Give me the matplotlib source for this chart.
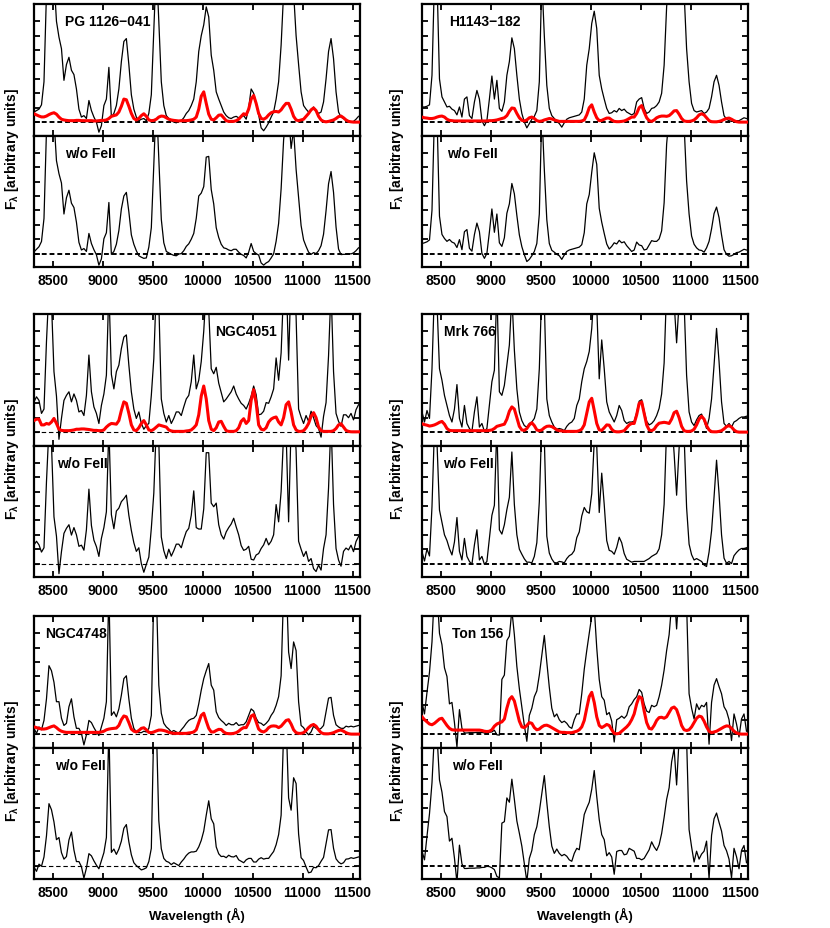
import numpy as np
import matplotlib.pyplot as plt

plt.rcParams["font.family"] = ["Liberation Sans", "DejaVu Sans"]
plt.rcParams["font.weight"] = "bold"
plt.rcParams["mathtext.default"] = "regular"

wavelength = np.arange(8310, 11575, 25)

# observed flux (incl. FeII), continuum level = 1, one row = 250 A
pg1126_flux = [1.7, 1.8, 1.9, 2.2, 3.8, 10, 12, 12, 11, 8.0,
               6.9, 6.1, 3.9, 5.0, 5.5, 4.6, 4.3, 3.3, 1.9, 1.35,
               1.45, 1.25, 2.5, 1.8, 1.35, 1.0, 0.3, 0.75, 2.15, 2.6,
               4.8, 1.35, 1.6, 2.15, 3.3, 5.2, 6.6, 6.8, 5.0, 2.9,
               1.9, 1.35, 1.1, 1.2, 1.25, 1.1, 1.6, 2.9, 7.3, 12,
               8.0, 3.8, 2.15, 1.45, 1.25, 1.1, 1.0, 0.95, 1.05, 1.1,
               1.3, 1.6, 1.8, 2.15, 2.6, 3.8, 5.9, 7.0, 7.75, 9.0,
               8.3, 5.65, 4.6, 3.1, 2.6, 2.15, 1.7, 1.45, 1.3, 1.25,
               1.35, 1.4, 1.3, 1.35, 1.45, 1.2, 2.0, 3.3, 3.0, 2.3,
               1.5, 0.6, 0.4, 0.65, 0.95, 1.35, 1.7, 2.6, 3.8, 6.35,
               10, 12, 12, 9.2, 10, 7.0, 5.0, 3.1, 2.15, 1.9,
               1.7, 1.8, 2.05, 1.8, 1.6, 1.7, 2.4, 4.0, 5.9, 6.8,
               5.4, 3.1, 1.7, 1.35, 1.25, 1.1, 1.05, 1.0, 1.05, 1.2,
               1.4]
pg1126_feii = [1.58, 1.5, 1.42, 1.36, 1.36, 1.42, 1.52, 1.6, 1.65, 1.55,
               1.35, 1.2, 1.15, 1.12, 1.1, 1.1, 1.1, 1.12, 1.12, 1.1,
               1.1, 1.1, 1.1, 1.1, 1.08, 1.08, 1.1, 1.12, 1.12, 1.15,
               1.25, 1.4, 1.45, 1.5, 1.7, 2.1, 2.6, 2.55, 2.1, 1.6,
               1.25, 1.15, 1.25, 1.45, 1.58, 1.4, 1.15, 1.1, 1.12, 1.2,
               1.35, 1.42, 1.4, 1.3, 1.2, 1.15, 1.12, 1.1, 1.08, 1.1,
               1.1, 1.1, 1.12, 1.15, 1.2, 1.35, 1.9, 2.8, 3.1, 2.3,
               1.55, 1.2, 1.15, 1.3, 1.48, 1.5, 1.3, 1.1, 1.05, 1.05,
               1.05, 1.1, 1.2, 1.4, 1.58, 1.5, 1.9, 2.6, 2.85, 2.3,
               1.6, 1.25, 1.2, 1.3, 1.5, 1.65, 1.72, 1.74, 1.7, 1.85,
               2.1, 2.3, 2.3, 1.9, 1.4, 1.15, 1.1, 1.15, 1.2, 1.4,
               1.6, 1.85, 1.98, 1.8, 1.4, 1.15, 1.05, 1.02, 1.05, 1.1,
               1.15, 1.25, 1.38, 1.42, 1.3, 1.15, 1.05, 1.02, 1.0, 1.0,
               1.0]

h1143_flux = [2.05, 2.05, 2.1, 2.2, 4.25, 11, 11, 4.0, 2.75, 2.4,
              2.05, 2.1, 1.9, 1.8, 1.5, 2.05, 1.35, 2.6, 2.75, 1.45,
              1.25, 2.4, 3.2, 2.6, 1.1, 0.75, 1.1, 2.6, 4.2, 2.6,
              3.9, 1.95, 1.75, 2.4, 4.25, 5.2, 6.85, 6.1, 4.25, 2.6,
              1.6, 1.0, 0.6, 0.9, 1.2, 1.4, 1.8, 3.8, 11, 7.0,
              3.55, 1.95, 1.45, 1.25, 1.05, 0.9, 0.65, 0.95, 1.2, 1.3,
              1.35, 1.4, 1.45, 1.5, 1.7, 2.6, 4.95, 6.1, 7.85, 8.7,
              7.5, 4.25, 3.3, 2.6, 1.95, 1.6, 1.65, 1.8, 1.7, 1.95,
              1.8, 1.9, 1.7, 1.6, 1.5, 1.6, 2.4, 2.6, 2.7, 1.95,
              1.6, 1.7, 1.95, 2.0, 2.15, 2.4, 3.0, 4.95, 9.0, 11,
              12, 12, 12, 12, 12, 10, 6.1, 3.8, 2.3, 1.8,
              1.7, 1.75, 1.8, 1.6, 1.7, 1.95, 2.75, 3.8, 4.25, 3.55,
              2.4, 1.45, 1.2, 1.1, 1.05, 1.05, 1.1, 1.1, 1.2, 1.3,
              1.25]
h1143_feii = [1.35, 1.3, 1.28, 1.25, 1.25, 1.28, 1.35, 1.4, 1.42, 1.35,
              1.2, 1.12, 1.1, 1.08, 1.08, 1.08, 1.08, 1.08, 1.08, 1.08,
              1.08, 1.08, 1.08, 1.08, 1.08, 1.08, 1.08, 1.1, 1.1, 1.12,
              1.15, 1.2, 1.25, 1.3, 1.45, 1.75, 1.98, 1.95, 1.6, 1.3,
              1.12, 1.08, 1.15, 1.3, 1.35, 1.25, 1.1, 1.05, 1.08, 1.15,
              1.2, 1.25, 1.22, 1.15, 1.1, 1.05, 1.05, 1.05, 1.05, 1.05,
              1.05, 1.05, 1.05, 1.05, 1.08, 1.15, 1.5, 2.0, 2.2, 1.7,
              1.3, 1.1, 1.12, 1.2, 1.28, 1.28, 1.15, 1.05, 1.03, 1.03,
              1.05, 1.08, 1.15, 1.25, 1.35, 1.35, 1.6, 2.0, 2.15, 1.7,
              1.3, 1.1, 1.05, 1.15, 1.3, 1.38, 1.42, 1.42, 1.4, 1.45,
              1.6, 1.78, 1.8, 1.55, 1.25, 1.08, 1.05, 1.05, 1.08, 1.15,
              1.3, 1.5, 1.58, 1.5, 1.3, 1.1, 1.03, 1.02, 1.02, 1.05,
              1.1, 1.18, 1.25, 1.28, 1.2, 1.1, 1.03, 1.0, 1.0, 1.0,
              1.0]

n4051_flux = [3.1, 3.45, 3.2, 2.3, 2.6, 7.3, 11, 10, 5.2, 3.5,
              0.5, 1.95, 3.2, 3.55, 3.8, 3.1, 3.65, 3.2, 2.4, 2.5,
              2.15, 3.55, 6.35, 3.8, 2.75, 2.3, 1.6, 2.85, 3.65, 4.95,
              11, 5.0, 4.0, 5.2, 5.65, 6.8, 7.6, 7.75, 5.65, 3.8,
              2.6, 1.95, 2.4, 1.6, 1.2, 1.45, 1.6, 3.55, 6.1, 11,
              10, 3.3, 2.3, 1.7, 2.15, 1.6, 1.95, 2.4, 2.4, 2.15,
              2.75, 3.3, 3.55, 4.5, 6.35, 4.0, 4.6, 5.9, 8.0, 11,
              9.5, 5.4, 5.05, 5.5, 4.4, 3.75, 3.1, 3.3, 3.55, 3.8,
              4.2, 3.65, 3.3, 3.0, 2.85, 2.6, 3.0, 3.5, 4.2, 3.6,
              2.2, 2.25, 2.45, 3.05, 3.0, 3.45, 4.0, 6.15, 4.6, 6.5,
              11, 12, 6.0, 12, 12, 9.0, 2.6, 2.05, 1.6, 2.15,
              1.75, 2.45, 2.0, 1.45, 1.25, 0.65, 2.1, 3.05, 6.3, 11,
              5.2, 2.3, 1.75, 1.4, 2.2, 2.2, 2.0, 2.3, 1.85, 2.55,
              2.9]
n4051_feii = [1.8, 1.9, 1.9, 1.5, 1.5, 1.6, 1.55, 1.7, 1.95, 1.6,
              1.2, 1.12, 1.1, 1.1, 1.1, 1.12, 1.15, 1.2, 1.2, 1.22,
              1.22, 1.2, 1.18, 1.15, 1.12, 1.12, 1.1, 1.1, 1.15, 1.35,
              1.5, 1.6, 1.58, 1.55, 1.8, 2.5, 3.1, 3.0, 2.3, 1.5,
              1.15, 1.1, 1.3, 1.6, 1.8, 1.5, 1.15, 1.1, 1.2, 1.35,
              1.5, 1.45, 1.4, 1.35, 1.15, 1.08, 1.05, 1.05, 1.05, 1.05,
              1.05, 1.08, 1.1, 1.15, 1.3, 1.5, 2.2, 3.5, 4.2, 3.3,
              1.8, 1.2, 1.1, 1.3, 1.7, 1.75, 1.4, 1.1, 1.05, 1.05,
              1.05, 1.1, 1.3, 1.75, 1.93, 1.6, 1.8, 3.2, 3.95, 3.0,
              1.5, 1.2, 1.15, 1.3, 1.7, 1.9, 2.0, 2.05, 1.7, 1.5,
              2.0, 2.9, 3.1, 2.4, 1.5, 1.15, 1.05, 1.05, 1.1, 1.3,
              1.6, 2.1, 2.35, 2.0, 1.35, 1.1, 1.05, 1.05, 1.05, 1.05,
              1.1, 1.25, 1.5, 1.58, 1.35, 1.12, 1.05, 1.02, 1.02, 1.02,
              1.02]

m766_flux = [2.4, 1.7, 2.5, 1.95, 5.4, 11, 10, 5.4, 4.6, 3.55,
             2.85, 2.15, 1.7, 2.6, 4.3, 1.95, 1.35, 2.85, 1.6, 1.25,
             1.05, 2.4, 3.45, 1.35, 1.6, 1.05, 1.25, 2.85, 4.5, 5.3,
             11, 3.8, 3.55, 4.25, 5.65, 7.05, 10.5, 6.7, 4.0, 2.4,
             1.8, 1.45, 1.35, 1.6, 1.7, 1.95, 2.6, 5.4, 11, 10,
             3.3, 2.15, 1.7, 1.35, 1.2, 1.25, 1.2, 1.1, 1.4, 1.6,
             1.7, 1.95, 2.85, 3.3, 4.5, 5.4, 5.9, 6.6, 8.2, 11,
             9.8, 4.7, 7.4, 5.4, 3.1, 2.4, 2.05, 1.7, 2.15, 2.85,
             2.5, 1.8, 1.6, 1.7, 1.7, 1.75, 2.35, 3.15, 3.25, 2.45,
             1.75, 1.5, 1.6, 1.8, 2.15, 2.65, 3.65, 5.8, 11, 12,
             12, 10, 7.2, 10, 12, 10, 4.95, 2.4, 1.7, 1.45,
             1.85, 2.15, 2.25, 1.8, 1.25, 1.95, 3.3, 5.65, 8.2, 5.9,
             3.1, 1.6, 1.4, 1.6, 1.35, 1.7, 1.8, 1.95, 2.05, 2.05,
             2.1]
m766_feii = [1.58, 1.52, 1.48, 1.42, 1.45, 1.5, 1.58, 1.68, 1.74, 1.55,
             1.25, 1.12, 1.1, 1.1, 1.1, 1.1, 1.1, 1.1, 1.1, 1.1,
             1.1, 1.1, 1.1, 1.1, 1.1, 1.1, 1.1, 1.12, 1.15, 1.25,
             1.4, 1.45, 1.5, 1.55, 1.9, 2.45, 2.75, 2.6, 2.0, 1.4,
             1.15, 1.12, 1.25, 1.5, 1.65, 1.45, 1.15, 1.1, 1.15, 1.3,
             1.4, 1.42, 1.38, 1.28, 1.15, 1.1, 1.08, 1.05, 1.05, 1.05,
             1.05, 1.05, 1.05, 1.1, 1.2, 1.5, 2.3, 3.1, 3.35, 2.5,
             1.6, 1.15, 1.12, 1.3, 1.5, 1.48, 1.2, 1.05, 1.02, 1.02,
             1.05, 1.1, 1.3, 1.5, 1.6, 1.6, 2.2, 3.0, 3.1, 2.3,
             1.5, 1.15, 1.1, 1.2, 1.45, 1.62, 1.65, 1.68, 1.65, 1.6,
             1.9, 2.35, 2.45, 2.0, 1.4, 1.1, 1.05, 1.05, 1.08, 1.2,
             1.5, 1.9, 2.1, 1.9, 1.45, 1.15, 1.03, 1.02, 1.02, 1.05,
             1.1, 1.22, 1.38, 1.45, 1.35, 1.15, 1.03, 1.0, 1.0, 1.0,
             1.0]

n4748_flux = [1.4, 1.05, 1.5, 1.3, 1.95, 3.45, 5.75, 5.4, 4.6, 3.25,
              3.25, 2.1, 1.6, 1.75, 2.9, 3.45, 2.2, 1.4, 1.4, 1.05,
              0.25, 0.95, 1.95, 1.8, 1.45, 1.15, 0.9, 1.5, 2.1, 3.25,
              11, 2.3, 2.55, 2.2, 2.75, 3.7, 4.85, 5.05, 3.45, 2.1,
              1.4, 1.15, 1.1, 1.1, 1.2, 1.15, 1.4, 2.3, 11, 11,
              4.4, 2.45, 1.75, 1.5, 1.35, 1.15, 1.25, 1.15, 1.05, 1.3,
              1.5, 1.75, 1.95, 2.05, 2.1, 2.3, 3.1, 4.05, 4.85, 5.4,
              5.9, 4.4, 4.05, 2.55, 2.15, 1.95, 1.8, 1.6, 1.75, 1.65,
              1.65, 1.8, 1.6, 1.65, 1.65, 1.85, 2.3, 2.75, 2.6, 2.1,
              1.8, 1.75, 1.6, 1.75, 1.95, 2.3, 2.55, 3.0, 3.6, 5.05,
              11, 12, 6.7, 5.55, 7.4, 6.8, 3.25, 1.6, 1.45, 1.15,
              0.95, 1.15, 1.55, 1.4, 1.3, 1.4, 1.6, 2.55, 3.5, 3.55,
              2.3, 1.65, 1.5, 1.4, 1.4, 1.55, 1.5, 1.55, 1.5, 1.55,
              1.6]
n4748_feii = [1.5, 1.45, 1.4, 1.35, 1.35, 1.38, 1.45, 1.52, 1.57, 1.45,
              1.3, 1.2, 1.15, 1.12, 1.12, 1.12, 1.12, 1.12, 1.12, 1.12,
              1.12, 1.12, 1.12, 1.12, 1.12, 1.12, 1.12, 1.15, 1.2, 1.3,
              1.35, 1.38, 1.4, 1.42, 1.6, 2.0, 2.26, 2.2, 1.8, 1.35,
              1.2, 1.15, 1.25, 1.4, 1.44, 1.3, 1.12, 1.1, 1.15, 1.22,
              1.28, 1.28, 1.25, 1.2, 1.12, 1.08, 1.05, 1.05, 1.05, 1.05,
              1.05, 1.05, 1.08, 1.1, 1.15, 1.3, 1.8, 2.3, 2.45, 1.9,
              1.4, 1.15, 1.15, 1.25, 1.33, 1.32, 1.15, 1.05, 1.03, 1.03,
              1.05, 1.1, 1.2, 1.35, 1.45, 1.45, 1.8, 2.25, 2.35, 1.85,
              1.35, 1.2, 1.15, 1.25, 1.45, 1.55, 1.57, 1.55, 1.45, 1.55,
              1.75, 1.95, 2.0, 1.7, 1.3, 1.1, 1.05, 1.05, 1.1, 1.25,
              1.45, 1.6, 1.67, 1.55, 1.3, 1.1, 1.03, 1.02, 1.02, 1.05,
              1.1, 1.18, 1.25, 1.28, 1.2, 1.1, 1.03, 1.0, 1.0, 1.0,
              1.0]

ton156_flux = [3.2, 2.4, 3.9, 5.3, 7.4, 11, 11, 8.0, 7.2, 5.6,
               5.0, 3.1, 3.2, 1.8, 0.1, 2.7, 1.4, 1.08, 1.08, 1.1,
               1.1, 1.1, 1.12, 1.12, 1.12, 1.08, 1.13, 1.13, 1.15, 1.27,
               0.95, 0.93, 4.8, 5.1, 7.5, 7.8, 9.6, 7.9, 5.7, 4.15,
               2.85, 1.6, 0.5, 2.3, 2.8, 3.6, 4.0, 5.1, 6.5, 7.85,
               6.0, 4.25, 2.8, 2.2, 2.4, 2.0, 1.8, 1.9, 1.75, 1.5,
               1.4, 2.0, 2.4, 2.4, 3.8, 5.5, 6.8, 8.0, 9.2, 9.8,
               7.0, 4.8, 3.6, 3.35, 2.35, 2.5, 1.9, 0.45, 2.0, 2.1,
               2.25, 2.1, 2.3, 2.9, 3.1, 3.4, 3.6, 4.1, 3.9, 3.1,
               2.6, 2.5, 3.0, 2.9, 3.0, 3.6, 4.4, 5.45, 6.8, 7.9,
               10, 11, 8.3, 11, 11, 11, 10, 3.8, 2.8, 2.05,
               3.1, 2.7, 3.0, 2.9, 3.2, 0.3, 3.2, 4.4, 4.85, 4.3,
               3.8, 2.9, 2.6, 2.0, 0.55, 2.4, 1.7, 0.8, 2.05, 2.4,
               1.2]
ton156_feii = [2.2, 2.0, 1.85, 1.7, 1.65, 1.75, 1.9, 2.05, 2.1, 1.85,
               1.6, 1.4, 1.3, 1.28, 1.28, 1.28, 1.28, 1.28, 1.28, 1.28,
               1.28, 1.28, 1.28, 1.28, 1.25, 1.2, 1.18, 1.2, 1.3, 1.55,
               1.7, 1.78, 1.85, 2.05, 2.8, 3.4, 3.6, 3.3, 2.6, 1.9,
               1.5, 1.45, 1.6, 1.8, 1.75, 1.45, 1.3, 1.35, 1.5, 1.6,
               1.62, 1.55, 1.45, 1.35, 1.25, 1.15, 1.12, 1.12, 1.1, 1.1,
               1.1, 1.15, 1.2, 1.3, 1.5, 1.95, 2.8, 3.6, 3.9, 3.2,
               2.2, 1.6, 1.45, 1.55, 1.67, 1.6, 1.3, 1.05, 1.02, 1.05,
               1.2, 1.35, 1.5, 1.7, 2.0, 2.4, 3.1, 3.6, 3.5, 2.6,
               1.8, 1.4, 1.35, 1.6, 1.95, 2.15, 2.17, 2.1, 2.2, 2.5,
               2.8, 2.88, 2.7, 2.2, 1.6, 1.3, 1.25, 1.3, 1.5, 1.8,
               2.1, 2.25, 2.2, 1.9, 1.5, 1.2, 1.1, 1.15, 1.2, 1.3,
               1.4, 1.5, 1.57, 1.55, 1.4, 1.2, 1.08, 1.02, 1.0, 1.0,
               1.0]

object_names = ["PG 1126\u2212041", "H1143\u2212182", "NGC4051",
                "Mrk 766", "NGC4748", "Ton 156"]
x_ticks = [8500, 9000, 9500, 10000, 10500, 11000, 11500]

# layout in pixels of the 830x929 canvas
W, H = 830, 929
col_x = [34, 422]
row_top = [5, 315, 617]
pw, ph = 326, 131.5

panels = [
    # name, flux, feii, col, row, name x, w/o x, thin dashes
    (object_names[0], pg1126_flux, pg1126_feii, 0, 0, 0.095, 0.095, False),
    (object_names[1], h1143_flux, h1143_feii, 1, 0, 0.082, 0.077, False),
    (object_names[2], n4051_flux, n4051_feii, 0, 1, 0.555, 0.07, True),
    (object_names[3], m766_flux, m766_feii, 1, 1, 0.067, 0.066, False),
    (object_names[4], n4748_flux, n4748_feii, 0, 2, 0.034, 0.064, True),
    (object_names[5], ton156_flux, ton156_feii, 1, 2, 0.092, 0.092, False),
]

fig = plt.figure(figsize=(W / 100, H / 100), dpi=100)


def style(ax, labels):
    ax.set_xlim(8310, 11575)
    ax.set_ylim(0.07, 9.2)
    ax.set_xticks(x_ticks)
    ax.set_yticks(range(1, 9))
    ax.tick_params(direction="in", top=True, right=True, length=4, width=1.3,
                   labelleft=False, labelbottom=labels, labelsize=10, pad=4)
    for s in ax.spines.values():
        s.set_linewidth(1.6)


for name, flux, feii, col, row, name_x, wo_x, thin in panels:
    x0 = col_x[col]
    top = row_top[row]
    ax1 = fig.add_axes([x0 / W, 1 - (top + ph) / H, pw / W, ph / H])
    ax2 = fig.add_axes([x0 / W, 1 - (top + 2 * ph) / H, pw / W, ph / H])

    flux = np.array(flux)
    feii = np.array(feii)
    wo_feii = flux - (feii - 1.0)

    if thin:
        dash = dict(color="black", lw=0.8, ls=(0, (4, 2.5)), zorder=1)
    else:
        dash = dict(color="black", lw=1.4, ls=(0, (2.5, 1.5)), zorder=1)

    ax1.axhline(1.0, **dash)
    ax1.plot(wavelength, flux, color="black", lw=0.9, zorder=2)
    ax1.plot(wavelength, feii, color="red", lw=2.2, zorder=3)
    ax1.text(name_x, 0.87, name, transform=ax1.transAxes, fontsize=10,
             fontweight="bold", va="center")
    style(ax1, False)

    ax2.axhline(1.0, **dash)
    ax2.plot(wavelength, wo_feii, color="black", lw=0.9, zorder=2)
    ax2.text(wo_x, 0.87, "w/o FeII", transform=ax2.transAxes, fontsize=10,
             fontweight="bold", va="center")
    style(ax2, True)

# axis titles
for r in range(3):
    yc = 1 - (row_top[r] + ph + 13) / H
    for xl in (12, 397):
        fig.text(xl / W, yc, r"F$_\lambda$ [arbitrary units]", rotation=90,
                 ha="center", va="center", fontsize=10, fontweight="bold")

for x0 in col_x:
    fig.text((x0 + pw / 2) / W, 1 - 915 / H, "Wavelength (\u00c5)",
             ha="center", va="center", fontsize=9.5, fontweight="bold")

fig.savefig("out.png", dpi=100)
